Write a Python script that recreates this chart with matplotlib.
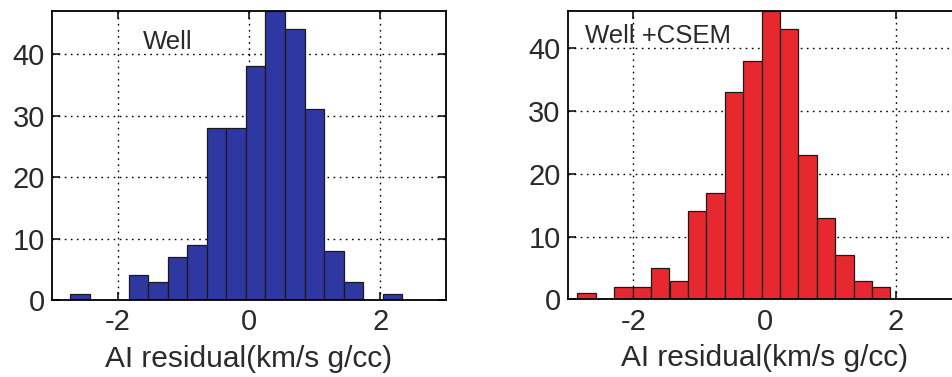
import matplotlib
matplotlib.use("Agg")
import matplotlib.pyplot as plt

# Histogram bin centres and counts of the AI residuals
well_centers = [-2.575, -2.278, -1.980, -1.683, -1.385, -1.088, -0.790, -0.493, -0.196,
                0.102, 0.399, 0.697, 0.994, 1.292, 1.589, 1.886, 2.184]
well_counts = [1, 0, 0, 4, 3, 7, 9, 28, 28, 38, 47, 44, 31, 8, 3, 0, 1]
well_width = 0.2974

csem_centers = [-2.711, -2.431, -2.150, -1.870, -1.590, -1.309, -1.029, -0.749, -0.468,
                -0.188, 0.093, 0.373, 0.653, 0.934, 1.214, 1.494, 1.775]
csem_counts = [1, 0, 2, 2, 5, 3, 14, 17, 33, 38, 46, 43, 23, 13, 7, 3, 2]
csem_width = 0.2803

x_ticks = [-2, 0, 2]
y_ticks = [0, 10, 20, 30, 40]
x_label = "AI residual(km/s g/cc)"

plt.rcParams["font.family"] = ["Liberation Sans", "DejaVu Sans"]
plt.rcParams["axes.unicode_minus"] = False
TXT = "#2a2a2a"

fig = plt.figure(figsize=(9.52, 3.77), dpi=100)
ax1 = fig.add_axes([0.0546, 0.2042, 0.4139, 0.7666])
ax2 = fig.add_axes([0.5963, 0.2060, 0.4139, 0.7657])

panels = [
    (ax1, well_centers, well_counts, well_width, "#2f37a3", "Well", -1.62, 40.8),
    (ax2, csem_centers, csem_counts, csem_width, "#e8282f", "Well +CSEM", -2.73, 40.8),
]

for ax, centers, counts, width, color, tag, tx, ty in panels:
    ax.set_axisbelow(True)
    ax.bar(centers, counts, width=width, color=color, edgecolor="#1a1a1a",
           linewidth=0.9, zorder=2)
    ax.set_xlim(-3, 3)
    ax.set_ylim(0, max(counts))
    ax.set_xticks(x_ticks)
    ax.set_yticks(y_ticks)
    ax.grid(True, color="black", linestyle=(0, (1.2, 3.2)), linewidth=1.0, zorder=0)
    ax.tick_params(direction="in", length=6, width=1.1, top=True, right=True,
                   labelsize=21, colors="black", labelcolor=TXT)
    ax.tick_params(axis="x", pad=6)
    ax.tick_params(axis="y", pad=5)
    for s in ax.spines.values():
        s.set_linewidth(1.3)
        s.set_color("black")
    ax.set_xlabel(x_label, fontsize=21.5, color=TXT, labelpad=6)
    ax.text(tx, ty, tag, fontsize=18.5, color=TXT, zorder=3)

fig.savefig("out.png", dpi=100)
